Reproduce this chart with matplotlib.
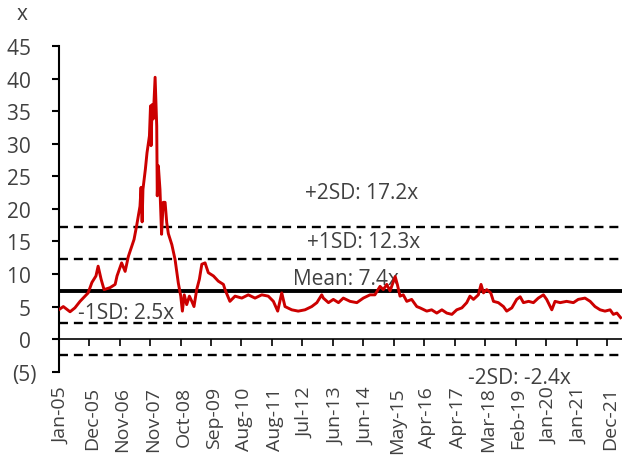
import numpy as np
import matplotlib
matplotlib.use("Agg")
import matplotlib.pyplot as plt
from matplotlib.transforms import ScaledTranslation

plt.rcParams['font.family'] = ['Open Sans', 'DejaVu Sans']

# months since Jan-2005 and P/E multiple (x)
months = [0.0, 1.7, 4.2, 6.0, 7.9, 10.9, 12.3, 13.8, 14.6, 15.7, 16.8, 19.0, 20.9, 21.6,
          23.3, 24.6, 25.8, 27.9, 28.9, 30.1, 30.5, 30.9, 31.2, 32.1, 32.7, 33.6, 34.0,
          34.2, 34.6, 35.0, 35.7, 36.3, 36.5, 36.9, 37.5, 38.1, 38.7, 39.4, 40.0, 40.6,
          41.9, 43.1, 44.3, 45.2, 45.8, 46.5, 47.4, 48.4, 49.3, 50.1, 51.1, 52.1, 53.0,
          54.2, 55.4, 57.3, 59.1, 61.0, 61.6, 63.4, 65.3, 67.8, 70.2, 72.7, 75.2, 77.6,
          79.5, 81.1, 82.6, 83.8, 86.3, 88.7, 91.2, 93.7, 95.6, 97.4, 98.0, 99.9, 101.7,
          103.6, 105.4, 107.9, 110.4, 112.8, 115.3, 117.1, 119.0, 120.2, 121.5, 122.7,
          124.6, 125.4, 126.4, 127.6, 128.9, 130.7, 132.6, 133.8, 136.3, 138.1, 140.0,
          141.9, 143.7, 145.6, 147.4, 149.3, 151.1, 152.3, 153.6, 155.4, 156.4, 157.3,
          158.5, 160.0, 161.0, 162.8, 164.7, 165.9, 167.8, 169.6, 170.9, 172.1, 174.0,
          175.8, 177.6, 179.5, 180.7, 182.6, 183.8, 185.7, 188.1, 190.6, 192.4, 194.9,
          196.8, 198.6, 200.5, 202.3, 204.2, 205.4, 206.7, 208.1]
values = [4.5, 5.0, 4.2, 4.8, 5.8, 7.1, 8.7, 9.7, 11.2, 9.2, 7.6, 7.9, 8.4, 9.7,
          11.7, 10.4, 12.7, 15.3, 17.5, 20.4, 23.3, 18.0, 23.0, 26.1, 28.6, 31.2, 35.8,
          29.7, 36.0, 33.8, 40.2, 32.7, 22.0, 26.6, 23.0, 16.1, 21.0, 21.0, 17.9, 16.2,
          14.5, 12.2, 8.6, 6.6, 4.3, 6.8, 5.3, 6.6, 5.8, 5.0, 7.6, 9.2, 11.5,
          11.7, 10.2, 9.7, 8.9, 8.4, 7.6, 5.8, 6.6, 6.3, 6.8, 6.3, 6.8, 6.6,
          5.8, 4.3, 7.1, 5.0, 4.5, 4.3, 4.5, 5.0, 5.6, 6.8, 6.3, 5.6, 6.1,
          5.6, 6.3, 5.8, 5.6, 6.3, 6.8, 6.8, 8.1, 7.6, 8.4, 7.4,
          9.6, 8.4, 6.6, 6.8, 5.8, 6.1, 5.0, 4.8, 4.3, 4.5, 4.0,
          4.5, 4.0, 3.8, 4.5, 4.8, 5.6, 6.6, 6.1, 6.8, 8.4, 7.1,
          7.6, 7.1, 5.8, 5.6, 5.0, 4.3, 4.8, 6.1, 6.5, 5.6, 5.8,
          5.6, 6.3, 6.8, 6.1, 4.5, 5.8, 5.6, 5.8, 5.6, 6.1, 6.3,
          5.8, 5.0, 4.5, 4.3, 4.5, 3.8, 4.0, 3.3]

mean_val = 7.4
sd_levels = [17.2, 12.3, 2.5, -2.4]
sd_labels = ["+2SD: 17.2x", "+1SD: 12.3x", "-1SD: 2.5x", "-2SD: -2.4x"]

tick_labels = ["Jan-05", "Dec-05", "Nov-06", "Nov-07", "Oct-08", "Sep-09", "Aug-10",
               "Aug-11", "Jul-12", "Jun-13", "Jun-14", "May-15", "Apr-16", "Apr-17",
               "Mar-18", "Feb-19", "Jan-20", "Jan-21", "Dec-21"]
tick_step = 11.28
y_ticks = [45, 40, 35, 30, 25, 20, 15, 10, 5, 0, -5]

fig = plt.figure(figsize=(6.22, 4.56), dpi=100)
ax = fig.add_axes([58.7/622, 1-372.7/456, 1-58.7/622, (372.7-47)/456])

txt = '#404040'
red = '#CC0000'

ax.plot(months, values, color=red, lw=2.1, zorder=4)
ax.axhline(mean_val, color='black', lw=2.8, zorder=3)
for lv in sd_levels:
    ax.axhline(lv, color='black', lw=1.7, linestyle=(0, (3.8, 2.5)), zorder=3)

ax.set_xlim(0, 208.6)
ax.set_ylim(-5, 45)

for s in ['top', 'right']:
    ax.spines[s].set_visible(False)
ax.spines['bottom'].set_position(('data', 0))
ax.spines['left'].set_linewidth(1.5)
ax.spines['bottom'].set_linewidth(1.2)

ax.set_yticks(y_ticks)
ax.set_yticklabels([f"({abs(v)})" if v < 0 else f"{v} " for v in y_ticks])
ax.tick_params(axis='y', direction='out', length=5, width=1.5, pad=11,
               labelsize=15, labelcolor=txt)

ax.set_xticks(np.arange(len(tick_labels)) * tick_step)
ax.set_xticklabels(tick_labels, rotation=90)
ax.tick_params(axis='x', direction='out', length=5, width=1.2, pad=29,
               labelsize=14, labelcolor=txt)
for lbl in ax.get_xticklabels():
    lbl.set_transform(lbl.get_transform() + ScaledTranslation(3/100, 0, fig.dpi_scale_trans))

ax.text(91.2, 21.6, sd_labels[0], fontsize=15, color=txt, va='baseline')
ax.text(92.0, 14.2, sd_labels[1], fontsize=15, color=txt, va='baseline')
ax.text(86.8, 8.4, f"Mean: {mean_val}x", fontsize=15, color=txt, va='baseline')
ax.text(7.1, 3.2, sd_labels[2], fontsize=15, color=txt, va='baseline')
ax.text(151.6, -6.7, sd_labels[3], fontsize=15, color=txt, va='baseline')

fig.text(22/622, 1-14/456, "x", fontsize=15, color=txt, ha='center', va='center')

fig.savefig("out.png", dpi=100)
